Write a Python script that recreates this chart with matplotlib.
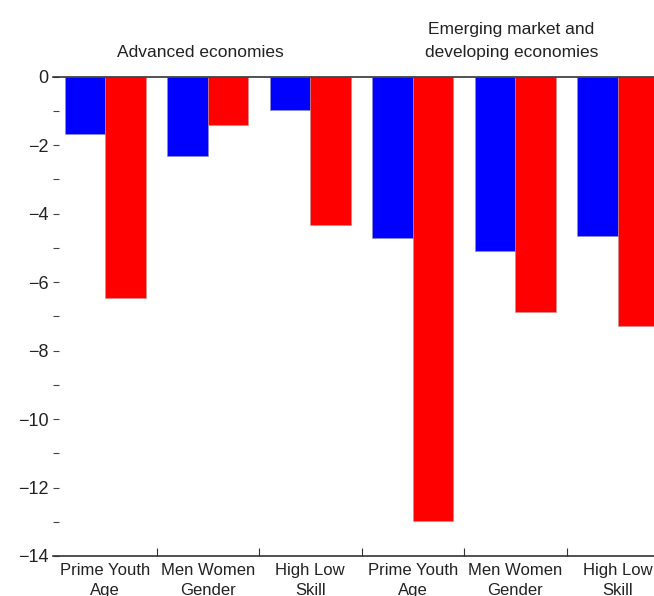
import matplotlib.pyplot as plt
import numpy as np

plt.rcParams['font.family'] = ['Liberation Sans', 'DejaVu Sans']

categories = ['Prime Youth\nAge', 'Men Women\nGender', 'High Low\nSkill',
              'Prime Youth\nAge', 'Men Women\nGender', 'High Low\nSkill']
first_values = [-1.68, -2.31, -0.96, -4.72, -5.09, -4.64]
second_values = [-6.45, -1.41, -4.33, -12.98, -6.88, -7.29]
group_titles = ['Advanced economies', 'Emerging market and\ndeveloping economies']

fig = plt.figure(figsize=(6.54, 5.96), dpi=100)
ax = fig.add_axes([53 / 654, 1 - 556 / 596, 601 / 654, (556 - 76.7) / 596])

x = np.arange(len(categories))
w = 0.395
ax.bar(x - w / 2, first_values, w, color='#0000ff', edgecolor='#9090c0', linewidth=0.4)
ax.bar(x + w / 2, second_values, w, color='#ff0000', edgecolor='#c09090', linewidth=0.4)

ax.set_xlim(-0.51, 5.353)
ax.set_ylim(-14, 0)

for side in ['left', 'right']:
    ax.spines[side].set_visible(False)
for side in ['top', 'bottom']:
    ax.spines[side].set_color('#333333')
    ax.spines[side].set_linewidth(1.2)

ax.set_yticks(np.arange(-14, 1, 2))
ax.set_yticks(np.arange(-13, 0, 2), minor=True)
ax.tick_params(axis='y', which='both', direction='in', length=4, width=0.8,
               color='#444444', labelsize=13, labelcolor='#222222', pad=3)

ax.set_xticks(x)
ax.set_xticklabels(categories, linespacing=1.45)
ax.set_xticks(np.arange(0.5, 5, 1), minor=True)
ax.tick_params(axis='x', which='major', length=0, labelsize=12, labelcolor='#222222', pad=5)
ax.tick_params(axis='x', which='minor', direction='in', length=6, width=0.8, color='#333333')

ax.text(0.93, 0.5, group_titles[0], ha='center', va='bottom', fontsize=12.5, color='#222222')
ax.text(3.96, 0.5, group_titles[1], ha='center', va='bottom', fontsize=12.5, color='#222222',
        linespacing=1.6)

fig.savefig('out.png', dpi=100)
